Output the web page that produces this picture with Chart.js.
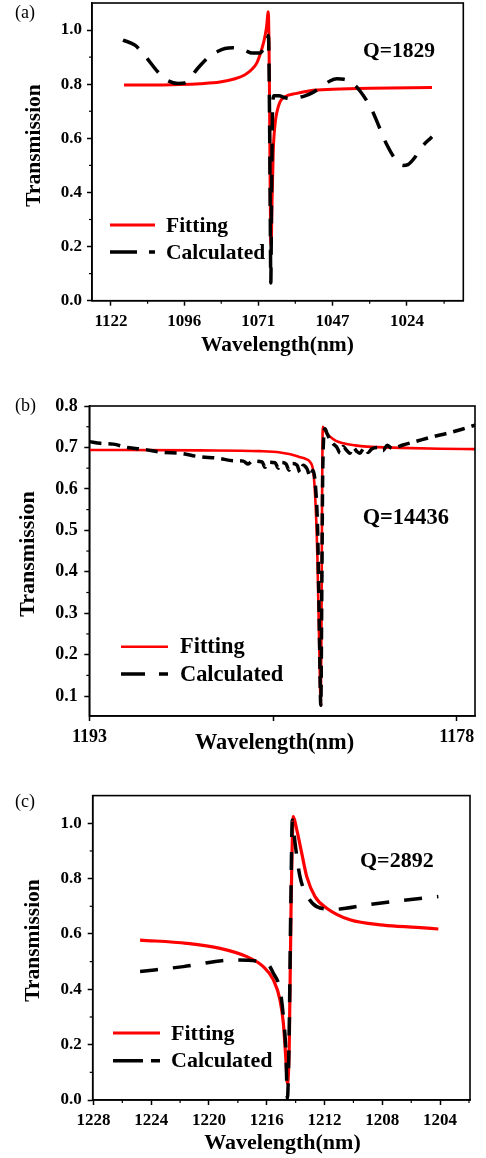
<!DOCTYPE html>
<html><head><meta charset="utf-8">
<script src="https://cdn.jsdelivr.net/npm/chart.js@4.4.1/dist/chart.umd.min.js"></script>
<style>
html,body{margin:0;padding:0;background:#fff;}
#wrap{position:relative;width:486px;height:1158px;overflow:hidden;background:#fff;}
canvas{position:absolute;left:0;}
</style></head><body>
<div id="wrap">
<canvas id="ca" width="486" height="360" style="top:0px"></canvas>
<canvas id="cb" width="486" height="410" style="top:360px"></canvas>
<canvas id="cc" width="486" height="388" style="top:770px"></canvas>
</div>
<script>
const C_NM_THZ = 299792.458;

// ---------- Panel (a) ----------
const aTickLabels = [1122, 1096, 1071, 1047, 1024];
const aYTicks = [0, 0.2, 0.4, 0.6, 0.8, 1.0];
const aFitWl = [1117.28,1108.00,1097.49,1090.59,1083.78,1078.72,1075.38,1073.06,1071.40,1070.08,1069.09,1068.26,1067.67,1067.34,1067.11,1066.92,1066.72,1066.46,1066.03,1065.47,1064.92,1063.84,1062.21,1058.42,1054.15,1046.83,1035.27,1016.47];
const aFitT = [0.797,0.797,0.799,0.802,0.808,0.82,0.835,0.855,0.88,0.92,0.96,1.01,1.068,0.85,0.5,0.25,0.205,0.35,0.556,0.65,0.693,0.735,0.754,0.766,0.776,0.781,0.785,0.788];
const aCalcWl = [1117.64,1113.34,1109.78,1105.18,1102.02,1098.19,1095.76,1091.28,1087.17,1084.79,1082.09,1079.40,1075.38,1073.06,1070.40,1069.09,1068.10,1067.61,1067.28,1067.01,1066.85,1066.59,1066.29,1065.80,1064.17,1062.21,1060.59,1058.32,1055.75,1053.50,1050.95,1047.78,1045.57,1043.37,1041.49,1038.37,1034.66,1032.19,1030.05,1027.61,1025.18,1023.67,1021.56,1020.06,1016.47];
const aCalcT = [0.963,0.944,0.905,0.845,0.815,0.803,0.805,0.86,0.905,0.92,0.932,0.935,0.925,0.915,0.915,0.935,0.96,0.98,0.7,0.3,0.065,0.4,0.7,0.757,0.757,0.750,0.748,0.75,0.757,0.768,0.786,0.812,0.82,0.818,0.81,0.775,0.704,0.635,0.575,0.525,0.50,0.503,0.53,0.56,0.606];

// ---------- Panel (b) ----------
const bTicks = [1193, 1185.5, 1178];
const bTickLabels = ['1193', '', '1178'];
const bYTicks = [0.1, 0.2, 0.3, 0.4, 0.5, 0.6, 0.7, 0.8];
const bFitWl = [1193.00,1188.48,1186.03,1185.21,1184.84,1184.43,1184.15,1183.99,1183.85,1183.76,1183.69,1183.62,1183.55,1183.52,1183.50,1183.47,1183.42,1183.33,1183.17,1182.93,1182.63,1182.15,1181.67,1180.31,1178.68,1177.25];
const bFitT = [0.694,0.693,0.691,0.688,0.684,0.677,0.672,0.665,0.638,0.557,0.436,0.235,0.078,0.30,0.55,0.75,0.745,0.735,0.726,0.716,0.710,0.705,0.702,0.699,0.697,0.696];
const bCalcWl = [1193.00,1192.56,1192.03,1191.46,1190.73,1190.03,1189.30,1188.56,1187.74,1187.13,1186.72,1186.52,1186.36,1185.95,1185.83,1185.70,1185.42,1185.29,1185.17,1184.97,1184.85,1184.72,1184.52,1184.40,1184.27,1184.11,1183.99,1183.87,1183.76,1183.68,1183.62,1183.55,1183.51,1183.47,1183.38,1183.29,1183.17,1183.05,1182.89,1182.76,1182.64,1182.48,1182.36,1182.23,1182.07,1181.95,1181.78,1181.62,1181.46,1181.21,1181.01,1180.84,1180.64,1180.19,1179.70,1178.97,1178.39,1177.78,1177.25];
const bCalcT = [0.714,0.710,0.708,0.700,0.695,0.688,0.686,0.678,0.674,0.668,0.667,0.660,0.667,0.665,0.652,0.664,0.663,0.650,0.664,0.660,0.645,0.661,0.657,0.640,0.657,0.648,0.630,0.645,0.60,0.50,0.30,0.078,0.35,0.65,0.745,0.733,0.718,0.709,0.700,0.686,0.702,0.692,0.686,0.700,0.690,0.686,0.699,0.688,0.697,0.700,0.692,0.705,0.698,0.706,0.714,0.726,0.734,0.744,0.754];

// ---------- Panel (c) ----------
const cTicks = [1228, 1224, 1220, 1216, 1212, 1208, 1204];
const cYTicks = [0, 0.2, 0.4, 0.6, 0.8, 1.0];
const cFitWl = [1224.77,1221.54,1219.23,1217.38,1216.24,1215.54,1215.08,1214.85,1214.66,1214.57,1214.44,1214.32,1214.16,1213.92,1213.58,1213.23,1212.66,1211.85,1210.24,1207.93,1205.62,1204.12];
const cFitT = [0.578,0.566,0.548,0.518,0.482,0.434,0.361,0.277,0.133,0.06,0.205,0.687,1.024,0.976,0.892,0.807,0.735,0.693,0.651,0.632,0.624,0.618];
const cCalcWl = [1224.77,1221.77,1218.31,1216.00,1215.54,1215.08,1214.85,1214.68,1214.57,1214.46,1214.34,1214.23,1214.04,1213.70,1213.23,1212.54,1211.39,1209.08,1206.78,1204.12];
const cCalcT = [0.464,0.482,0.506,0.494,0.458,0.398,0.301,0.181,0.006,0.205,0.687,1.012,0.928,0.807,0.741,0.699,0.689,0.705,0.72,0.735];

const SERIF = "'Liberation Serif','Times New Roman',Times,serif";
const toTHz = wl => C_NM_THZ / wl;
function pts(xs, ys, fx) { return xs.map((x, i) => ({ x: fx ? fx(x) : x, y: ys[i] })); }
function mids(arr) {
  const out = [];
  for (let i = 0; i < arr.length - 1; i++) out.push((arr[i] + arr[i + 1]) / 2);
  const n = arr.length;
  out.push(arr[n - 1] + (arr[n - 1] - arr[n - 2]) / 2);
  out.unshift(arr[0] - (arr[1] - arr[0]) / 2);
  return out;
}

const decoPlugin = {
  id: 'deco',
  afterDraw(chart, args, o) {
    const ctx = chart.ctx, a = chart.chartArea, sx = chart.scales.x, sy = chart.scales.y;
    ctx.save();
    ctx.strokeStyle = '#000';
    ctx.lineWidth = 1.2;
    (o.minorX || []).forEach(v => {
      if (v < Math.min(sx.min, sx.max) || v > Math.max(sx.min, sx.max)) return;
      const p = sx.getPixelForValue(v);
      ctx.beginPath(); ctx.moveTo(p, a.bottom); ctx.lineTo(p, a.bottom + 3); ctx.stroke();
    });
    (o.minorY || []).forEach(v => {
      if (v < sy.min || v > sy.max) return;
      const p = sy.getPixelForValue(v);
      ctx.beginPath(); ctx.moveTo(a.left, p); ctx.lineTo(a.left - 3, p); ctx.stroke();
    });
    ctx.lineWidth = 1.6;
    ctx.strokeRect(a.left, a.top, a.right - a.left, a.bottom - a.top);
    ctx.fillStyle = '#000';
    ctx.textBaseline = 'middle';
    (o.texts || []).forEach(t => {
      ctx.font = t.font;
      ctx.textAlign = t.align || 'left';
      if (t.rot) {
        ctx.save(); ctx.translate(t.x, t.y); ctx.rotate(t.rot); ctx.fillText(t.text, 0, 0); ctx.restore();
      } else ctx.fillText(t.text, t.x, t.y);
    });
    const L = o.legend;
    if (L) {
      chart.data.datasets.forEach((ds, i) => {
        const y = L.rows[i];
        ctx.beginPath();
        ctx.strokeStyle = ds.borderColor;
        ctx.lineWidth = ds.borderWidth;
        ctx.setLineDash(i === 1 ? L.dash : []);
        ctx.moveTo(L.x1, y); ctx.lineTo(L.x2, y); ctx.stroke();
        ctx.setLineDash([]);
        ctx.font = L.font; ctx.textAlign = 'left'; ctx.fillStyle = '#000';
        ctx.fillText(ds.label, L.tx, y + 1);
      });
    }
    ctx.restore();
  }
};

function makeChart(id, spec) {
  const tickFont = { family: SERIF, size: spec.tickSize, weight: 'bold' };
  return new Chart(document.getElementById(id), {
    type: 'line',
    data: {
      datasets: [
        { label: 'Fitting', data: spec.fit, borderColor: '#ff0000', borderWidth: spec.fitW, pointRadius: 0,
          cubicInterpolationMode: 'monotone', order: 1, fill: false },
        { label: 'Calculated', data: spec.calc, borderColor: '#000000', borderWidth: spec.calcW, borderDash: spec.dash,
          pointRadius: 0, cubicInterpolationMode: 'monotone', order: 0, fill: false }
      ]
    },
    options: {
      responsive: false, animation: false, events: [],
      layout: { padding: spec.pad },
      plugins: { legend: { display: false }, tooltip: { enabled: false }, deco: spec.deco },
      scales: {
        x: {
          type: 'linear', min: spec.xmin, max: spec.xmax, reverse: !!spec.xrev,
          afterFit(s) { s.height = spec.xH; s.paddingLeft = 0; s.paddingRight = 0; },
          afterBuildTicks(s) { s.ticks = spec.xTickVals.map(v => ({ value: v })); },
          ticks: { font: tickFont, color: '#000', padding: spec.xPad, maxRotation: 0, autoSkip: false,
                   callback: spec.xLabel },
          grid: { drawOnChartArea: false, tickLength: 5, tickColor: '#000', tickWidth: 1.5 },
          border: { display: true, color: '#000', width: 1.5 }
        },
        y: {
          type: 'linear', min: spec.ymin, max: spec.ymax,
          afterFit(s) { s.width = spec.yW; s.paddingTop = 0; s.paddingBottom = 0; },
          afterBuildTicks(s) { s.ticks = spec.yTickVals.map(v => ({ value: v })); },
          ticks: { font: tickFont, color: '#000', padding: spec.yPad, autoSkip: false,
                   callback: v => Number(v).toFixed(1) },
          grid: { drawOnChartArea: false, tickLength: 5, tickColor: '#000', tickWidth: 1.5 },
          border: { display: true, color: '#000', width: 1.5 }
        }
      }
    },
    plugins: [decoPlugin]
  });
}

// Panel (a): axis linear in frequency, labelled in wavelength
const aTickVals = aTickLabels.map(toTHz);
makeChart('ca', {
  fit: pts(aFitWl, aFitT, toTHz), calc: pts(aCalcWl, aCalcT, toTHz),
  fitW: 3, calcW: 3.5, dash: [18, 13],
  pad: { top: 3, right: 22.7, left: 0, bottom: 0 },
  xmin: 265.56, xmax: 297.64, xH: 59.3, xPad: 6, xTickVals: aTickVals,
  xLabel: (v, i) => String(aTickLabels[i]),
  ymin: 0, ymax: 1.1, yW: 92, yPad: 5, yTickVals: aYTicks, tickSize: 17,
  deco: {
    minorX: mids(aTickVals), minorY: [0.1, 0.3, 0.5, 0.7, 0.9],
    texts: [
      { text: '(a)', x: 15, y: 13, font: `18px ${SERIF}` },
      { text: 'Q=1829', x: 363, y: 51, font: `bold 21.5px ${SERIF}` },
      { text: 'Transmission', x: 34, y: 145.5, rot: -Math.PI / 2, align: 'center', font: `bold 21.5px ${SERIF}` },
      { text: 'Wavelength(nm)', x: 277.5, y: 345, align: 'center', font: `bold 21.5px ${SERIF}` }
    ],
    legend: { x1: 110, x2: 155, tx: 166, rows: [225, 252], dash: [27, 12], font: `bold 21.5px ${SERIF}` }
  }
});

// Panel (b)
makeChart('cb', {
  fit: pts(bFitWl, bFitT), calc: pts(bCalcWl, bCalcT),
  fitW: 2.6, calcW: 3.5, dash: [12, 7],
  pad: { top: 46, right: 11, left: 0, bottom: 0 },
  xmin: 1177.25, xmax: 1193.01, xrev: true, xH: 54, xPad: 6, xTickVals: bTicks,
  xLabel: (v, i) => bTickLabels[i],
  ymin: 0.052, ymax: 0.8, yW: 89.3, yPad: 6.5, yTickVals: bYTicks, tickSize: 18,
  deco: {
    minorX: [], minorY: [0.15, 0.25, 0.35, 0.45, 0.55, 0.65, 0.75],
    texts: [
      { text: '(b)', x: 15, y: 46, font: `18px ${SERIF}` },
      { text: 'Q=14436', x: 362.7, y: 158, font: `bold 22.4px ${SERIF}` },
      { text: 'Transmission', x: 28, y: 194, rot: -Math.PI / 2, align: 'center', font: `bold 22px ${SERIF}` },
      { text: 'Wavelength(nm)', x: 274.5, y: 383, align: 'center', font: `bold 22.4px ${SERIF}` }
    ],
    legend: { x1: 121, x2: 168, tx: 180, rows: [286.7, 314], dash: [24, 14], font: `bold 22.4px ${SERIF}` }
  }
});

// Panel (c)
makeChart('cc', {
  fit: pts(cFitWl, cFitT), calc: pts(cCalcWl, cCalcT),
  fitW: 3.2, calcW: 3.5, dash: [18, 15],
  pad: { top: 25.6, right: 16, left: 0, bottom: 0 },
  xmin: 1201.93, xmax: 1228.05, xrev: true, xH: 58, xPad: 5, xTickVals: cTicks,
  xLabel: (v, i) => String(cTicks[i]),
  ymin: 0, ymax: 1.1, yW: 92.7, yPad: 6, yTickVals: cYTicks, tickSize: 17,
  deco: {
    minorX: mids(cTicks), minorY: [0.1, 0.3, 0.5, 0.7, 0.9],
    texts: [
      { text: '(c)', x: 15, y: 32, font: `18px ${SERIF}` },
      { text: 'Q=2892', x: 360, y: 91.7, font: `bold 22px ${SERIF}` },
      { text: 'Transmission', x: 33, y: 170.5, rot: -Math.PI / 2, align: 'center', font: `bold 21.5px ${SERIF}` },
      { text: 'Wavelength(nm)', x: 282.5, y: 373, align: 'center', font: `bold 22px ${SERIF}` }
    ],
    legend: { x1: 113, x2: 160, tx: 171, rows: [263, 290.7], dash: [30, 8], font: `bold 22px ${SERIF}` }
  }
});
</script>
</body></html>
